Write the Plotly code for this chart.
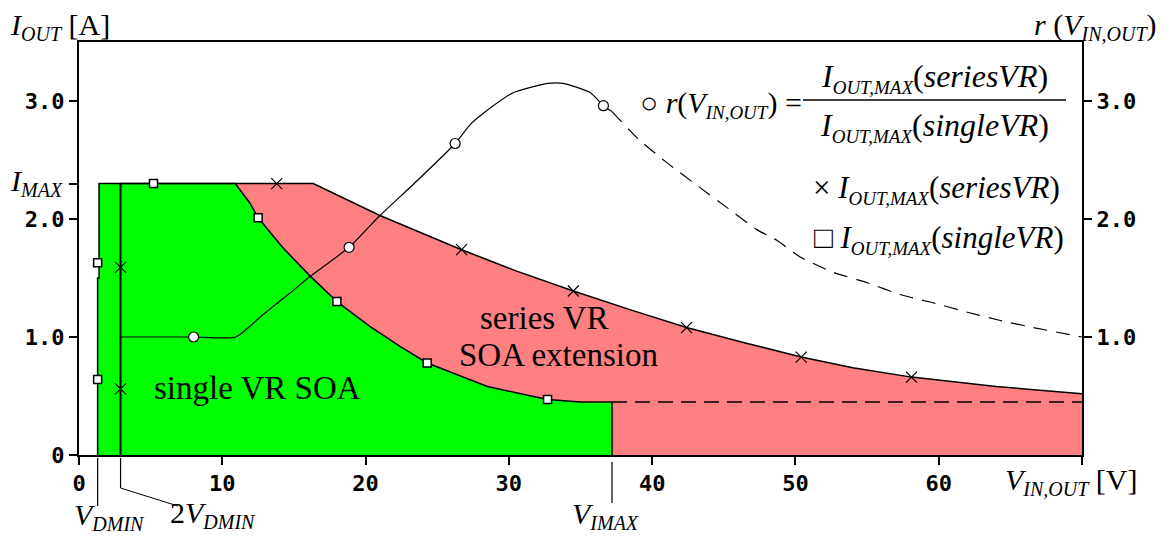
import plotly.graph_objects as go

# ---- chart values ----
V_DMIN = 1.3
V_2DMIN = 2.9
V_IMAX = 37.2
I_MAX = 2.3

# single VR SOA boundary (I_OUT,MAX(singleVR))
v_single = [V_DMIN, V_DMIN, 1.4, 1.4, 10.9, 11.9, 12.5, 14.2, 16.1, 18.0, 20.3, 22.4, 24.3, 28.5, 32.7, 35.0, V_IMAX]
i_single = [0.0, 1.5, 1.5, I_MAX, I_MAX, 2.14, 2.01, 1.76, 1.52, 1.30, 1.09, 0.92, 0.78, 0.58, 0.47, 0.45, 0.45]
v_single_ext = [V_IMAX, 70]
i_single_ext = [0.45, 0.45]

# series VR SOA boundary (I_OUT,MAX(seriesVR))
v_series = [V_2DMIN, V_2DMIN, 16.35, 21.0, 26.7, 30.5, 34.5, 38.5, 42.4, 46.5, 50.4, 54.0, 58.1, 64.0, 70.0]
i_series = [0.0, I_MAX, I_MAX, 2.03, 1.74, 1.56, 1.39, 1.23, 1.08, 0.95, 0.83, 0.74, 0.66, 0.58, 0.52]

# ratio r(V_IN,OUT)
v_ratio = [V_2DMIN, 8.0, 10.95, 12.85, 14.7, 16.1, 18.85, 21.0, 23.3, 26.25, 27.3, 28.7, 30.3, 32.7, 33.8, 35.7, 36.6, V_IMAX]
r_ratio = [1.0, 1.0, 1.0, 1.19, 1.37, 1.51, 1.76, 2.03, 2.29, 2.64, 2.80, 2.94, 3.07, 3.15, 3.15, 3.07, 2.96, 2.91]
v_ratio_ext = [V_IMAX, 39.1, 41.0, 43.3, 45.3, 47.3, 48.7, 50.3, 52.6, 55.0, 57.3, 59.6, 62.0, 64.3, 66.6, 70.0]
r_ratio_ext = [2.91, 2.67, 2.48, 2.27, 2.09, 1.91, 1.82, 1.68, 1.55, 1.46, 1.36, 1.29, 1.21, 1.14, 1.08, 1.0]

# marker samples
sq_v = [V_DMIN, V_DMIN, 5.2, 12.5, 18.0, 24.3, 32.7]
sq_i = [1.63, 0.64, I_MAX, 2.01, 1.30, 0.78, 0.47]
x_v = [V_2DMIN, V_2DMIN, 13.8, 26.7, 34.5, 42.4, 50.4, 58.1]
x_i = [1.59, 0.56, I_MAX, 1.74, 1.39, 1.08, 0.83, 0.66]
o_v = [8.0, 18.85, 26.25, 36.6]
o_r = [1.0, 1.76, 2.64, 2.96]

x_ticks = [0, 10, 20, 30, 40, 50, 60, 70]
x_ticklabels = ["0", "10", "20", "30", "40", "50", "60", ""]
y_ticks = [0, 1, 2, I_MAX, 3]
y_ticklabels = ["0", "1.0", "2.0", "", "3.0"]
r_ticks = [1, 2, 3]
r_ticklabels = ["1.0", "2.0", "3.0"]

GREEN = "#00FF00"
RED = "#FF8080"
SERIF = "Liberation Serif, DejaVu Serif, serif"
MONO = "DejaVu Sans Mono, monospace"

# plot area pixel geometry
L, R, T, B = 79, 1082, 42, 455
W, H = 1176, 536


def xp(X):
    return (X - L) / (R - L)


def yp(Y):
    return (B - Y) / (B - T)


def sub(t, size):
    return '<sub><span style="font-size:%dpx"><i>%s</i></span></sub>' % (size, t)


fig = go.Figure()

# red (series VR) region
fig.add_trace(go.Scatter(x=v_series + [70, V_2DMIN], y=i_series + [0, 0], fill="toself",
                         fillcolor=RED, mode="none", hoverinfo="skip"))
# green (single VR) region
fig.add_trace(go.Scatter(x=v_single + [V_IMAX, V_DMIN], y=i_single + [0, 0], fill="toself",
                         fillcolor=GREEN, mode="none", hoverinfo="skip"))
# series boundary line
fig.add_trace(go.Scatter(x=v_series[1:], y=i_series[1:], mode="lines",
                         line=dict(color="black", width=1.5)))
# 2VDMIN vertical
fig.add_trace(go.Scatter(x=v_series[:2], y=i_series[:2], mode="lines",
                         line=dict(color="black", width=2)))
# single boundary
fig.add_trace(go.Scatter(x=v_single + [V_IMAX], y=i_single + [0], mode="lines",
                         line=dict(color="black", width=1.5)))
fig.add_trace(go.Scatter(x=v_single_ext, y=i_single_ext, mode="lines",
                         line=dict(color="black", width=1.5, dash="15px,8px")))
# ratio curve
fig.add_trace(go.Scatter(x=v_ratio, y=r_ratio, mode="lines", yaxis="y2",
                         line=dict(color="black", width=1.2, shape="spline", smoothing=0.5)))
fig.add_trace(go.Scatter(x=v_ratio_ext, y=r_ratio_ext, mode="lines", yaxis="y2",
                         line=dict(color="black", width=1.2, dash="14px,9px", shape="spline", smoothing=0.5)))
# markers
fig.add_trace(go.Scatter(x=sq_v, y=sq_i, mode="markers",
                         marker=dict(symbol="square", size=8, color="white",
                                     line=dict(color="black", width=1.5))))
fig.add_trace(go.Scatter(x=x_v, y=x_i, mode="markers",
                         marker=dict(symbol="x-thin", size=11, color="black",
                                     line=dict(color="black", width=1.2))))
fig.add_trace(go.Scatter(x=o_v, y=o_r, mode="markers", yaxis="y2",
                         marker=dict(symbol="circle", size=10, color="white",
                                     line=dict(color="black", width=1.2))))

shapes = [
    dict(type="line", xref="x", yref="paper", x0=V_DMIN, x1=V_DMIN, y0=yp(458), y1=yp(506),
         line=dict(color="black", width=1.2)),
    dict(type="line", xref="x", yref="paper", x0=V_2DMIN, x1=V_2DMIN, y0=yp(458), y1=yp(488),
         line=dict(color="black", width=1.2)),
    dict(type="line", xref="x", yref="paper", x0=V_2DMIN, x1=V_2DMIN + 4.0, y0=yp(488), y1=yp(506),
         line=dict(color="black", width=1.0)),
    dict(type="line", xref="x", yref="paper", x0=V_IMAX, x1=V_IMAX, y0=yp(462), y1=yp(503),
         line=dict(color="black", width=1.2)),
    # fraction bar
    dict(type="line", xref="paper", yref="paper", x0=xp(803), x1=xp(1066), y0=yp(100), y1=yp(100),
         line=dict(color="black", width=1.5)),
]


def ann(text, X, Y, size=30, xanchor="left", yanchor="middle", family=SERIF, align="left"):
    return dict(text=text, x=xp(X), y=yp(Y), xref="paper", yref="paper", showarrow=False,
                xanchor=xanchor, yanchor=yanchor, align=align,
                font=dict(family=family, size=size, color="black"))


IOM = "<i>I</i>" + sub("OUT,MAX", 19)
annotations = [
    ann("<i>I</i>" + sub("OUT", 20) + " [A]", 8, 26, size=30),
    ann("<i>r</i> (<i>V</i>" + sub("IN,OUT", 20) + ")", 1032, 26, size=30),
    ann("<i>I</i>" + sub("MAX", 20), 8, 182, size=30),
    ann("<i>V</i>" + sub("DMIN", 20), 72, 516, size=30),
    ann("2<i>V</i>" + sub("DMIN", 20), 168, 514, size=30),
    ann("<i>V</i>" + sub("IMAX", 20), 570, 515, size=30),
    ann("<i>V</i>" + sub("IN,OUT", 20) + " [V]", 1003, 481, size=30),
    ann("○ <i>r</i>(<i>V</i>" + sub("IN,OUT", 19) + ") =", 638, 104, size=30),
    ann(IOM + "(<i>seriesVR</i>)", 934, 78, size=32, xanchor="center"),
    ann(IOM + "(<i>singleVR</i>)", 934, 127, size=32, xanchor="center"),
    ann("× " + IOM + "(<i>seriesVR</i>)", 1062, 190, size=31, xanchor="right"),
    ann("□ " + IOM + "(<i>singleVR</i>)", 1066, 239, size=31, xanchor="right"),
    ann("series VR", 544, 318, size=33, xanchor="center"),
    ann("SOA extension", 558, 355, size=33, xanchor="center"),
    ann("single VR SOA", 257, 388, size=33, xanchor="center"),
]

tickfont = dict(family=MONO, size=22, color="black", weight="bold")

fig.update_layout(
    width=W, height=H,
    margin=dict(l=L, r=W - R, t=T, b=H - B, pad=0),
    paper_bgcolor="white", plot_bgcolor="white",
    showlegend=False,
    shapes=shapes, annotations=annotations,
    xaxis=dict(range=[0, 70], tickvals=x_ticks, ticktext=x_ticklabels,
               showgrid=False, zeroline=False, showline=True, linecolor="black", linewidth=2,
               mirror=True, ticks="outside", ticklen=8, tickwidth=1.5, tickcolor="black",
               tickfont=tickfont),
    yaxis=dict(range=[0, 3.5], tickvals=y_ticks, ticktext=y_ticklabels,
               showgrid=False, zeroline=False, showline=True, linecolor="black", linewidth=2,
               ticks="outside", ticklen=8, tickwidth=1.5, tickcolor="black",
               tickfont=tickfont),
    yaxis2=dict(range=[0, 3.5], tickvals=r_ticks, ticktext=r_ticklabels, overlaying="y", side="right",
                showgrid=False, zeroline=False, showline=True, linecolor="black", linewidth=2,
                ticks="outside", ticklen=8, tickwidth=1.5, tickcolor="black",
                tickfont=tickfont),
)

fig.write_html("out.html", config={"displayModeBar": False},
               post_script="document.body.style.margin='0px';")
